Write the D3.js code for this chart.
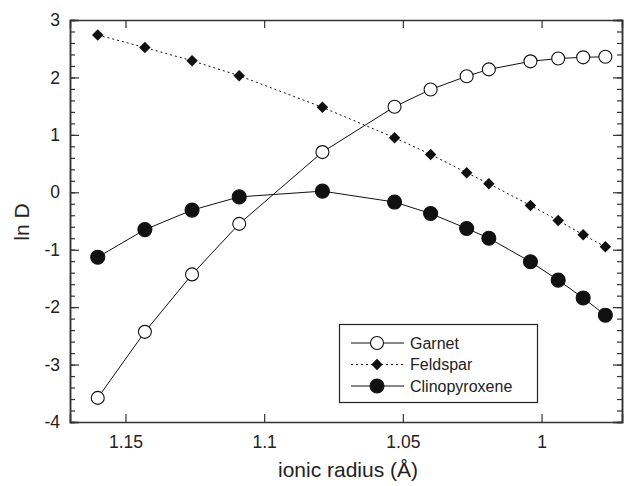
<!DOCTYPE html>
<html>
<head>
<meta charset="utf-8">
<script src="https://cdn.jsdelivr.net/npm/d3@7"></script>
<style>
  body { margin: 0; background: #fff; }
  text { font-family: "Liberation Sans", Arial, sans-serif; fill: #222; }
</style>
</head>
<body>
<div id="chart"></div>
<script>
// ionic radii (Å): La Ce Pr Nd Sm Gd Tb Dy Y Er Tm Yb Lu
var radius = [1.160, 1.143, 1.126, 1.109, 1.079, 1.053, 1.040, 1.027, 1.019, 1.004, 0.994, 0.985, 0.977];
var garnet = [-3.58, -2.43, -1.43, -0.55, 0.70, 1.49, 1.79, 2.02, 2.14, 2.28, 2.33, 2.35, 2.36];
var feldspar = [2.74, 2.52, 2.29, 2.03, 1.48, 0.95, 0.66, 0.34, 0.15, -0.23, -0.49, -0.74, -0.95];
var cpx = [-1.13, -0.65, -0.31, -0.08, 0.02, -0.17, -0.37, -0.63, -0.80, -1.21, -1.53, -1.84, -2.14];
var xTicks = [1.15, 1.1, 1.05, 1];
var yTicks = [-4, -3, -2, -1, 0, 1, 2, 3];

var width = 625, height = 486;
var plotLeft = 70, plotRight = 622, plotTop = 20, plotBottom = 422;

var svg = d3.select("#chart").append("svg")
    .attr("width", width)
    .attr("height", height);

var x = d3.scaleLinear().domain([1.17, 0.971]).range([plotLeft, plotRight]);
var y = d3.scaleLinear().domain([-4, 3]).range([plotBottom, plotTop]);

// frame with inward ticks
var axisColor = "#333";
var xAxis = d3.axisBottom(x).tickValues(xTicks).tickSize(-8).tickPadding(14)
    .tickFormat(function(d) { return d3.format("")(d); });
var gx = svg.append("g").attr("transform", "translate(0," + plotBottom + ")").call(xAxis);
var gxTop = svg.append("g").attr("transform", "translate(0," + plotTop + ")")
    .call(d3.axisTop(x).tickValues(xTicks).tickSize(-8).tickFormat(""));

var yMinor = d3.range(-4, 3.001, 0.2).map(function(v) { return Math.round(v * 10) / 10; });
var gyMinor = svg.append("g").attr("transform", "translate(" + plotLeft + ",0)")
    .call(d3.axisLeft(y).tickValues(yMinor).tickSize(-5).tickFormat(""));
var gy = svg.append("g").attr("transform", "translate(" + plotLeft + ",0)")
    .call(d3.axisLeft(y).tickValues(yTicks).tickSize(-9).tickPadding(10).tickFormat(d3.format("d")));
var gyR = svg.append("g").attr("transform", "translate(" + plotRight + ",0)")
    .call(d3.axisRight(y).tickValues(yMinor).tickSize(-5).tickFormat(""));
var gyR2 = svg.append("g").attr("transform", "translate(" + plotRight + ",0)")
    .call(d3.axisRight(y).tickValues(yTicks).tickSize(-9).tickFormat(""));

[gx, gxTop, gyMinor, gy, gyR, gyR2].forEach(function(g) {
    g.selectAll(".domain").attr("stroke", axisColor).attr("stroke-width", 1.5);
    g.selectAll(".tick line").attr("stroke", axisColor).attr("stroke-width", 1.2);
    g.selectAll(".tick text").style("font-size", "17.5px").attr("fill", "#222");
});
gy.selectAll(".tick text").text(function(d) { return d < 0 ? "-" + Math.abs(d) : d; });

// axis titles
svg.append("text")
    .attr("x", 348).attr("y", 477)
    .attr("text-anchor", "middle")
    .style("font-size", "21px")
    .text("ionic radius (Å)");
svg.append("text")
    .attr("transform", "translate(29,222) rotate(-90)")
    .attr("text-anchor", "middle")
    .style("font-size", "21px")
    .text("ln D");

var series = [
    {name: "Garnet", values: garnet, marker: "open", dash: null},
    {name: "Feldspar", values: feldspar, marker: "diamond", dash: "2,3"},
    {name: "Clinopyroxene", values: cpx, marker: "filled", dash: null}
];

var line = d3.line()
    .x(function(d) { return x(d[0]); })
    .y(function(d) { return y(d[1]); });

function drawMarker(g, type, cx, cy) {
    if (type === "diamond") {
        g.append("path")
            .attr("d", d3.symbol().type(d3.symbolSquare).size(66))
            .attr("transform", "translate(" + cx + "," + cy + ") rotate(45)")
            .attr("fill", "#111");
    } else {
        g.append("circle")
            .attr("cx", cx).attr("cy", cy)
            .attr("r", type === "open" ? 6.5 : 7)
            .attr("fill", type === "open" ? "#fff" : "#111")
            .attr("stroke", "#111").attr("stroke-width", 1.1);
    }
}

series.forEach(function(s) {
    var pts = radius.map(function(r, i) { return [r, s.values[i]]; });
    svg.append("path")
        .datum(pts)
        .attr("d", line)
        .attr("fill", "none")
        .attr("stroke", "#111")
        .attr("stroke-width", 1)
        .attr("stroke-dasharray", s.dash);
    var g = svg.append("g");
    pts.forEach(function(p) { drawMarker(g, s.marker, x(p[0]), y(p[1])); });
});

// legend
var legend = svg.append("g");
legend.append("rect")
    .attr("x", 339.5).attr("y", 324.5)
    .attr("width", 198).attr("height", 78)
    .attr("fill", "#fff").attr("stroke", "#222").attr("stroke-width", 1.2);
series.forEach(function(s, i) {
    var ly = 343 + i * 21.5;
    legend.append("line")
        .attr("x1", 351).attr("x2", 404)
        .attr("y1", ly).attr("y2", ly)
        .attr("stroke", "#111").attr("stroke-width", 1)
        .attr("stroke-dasharray", s.dash);
    drawMarker(legend, s.marker, 377, ly);
    legend.append("text")
        .attr("x", 410).attr("y", ly + 5.5)
        .style("font-size", "16px")
        .text(s.name);
});
</script>
</body>
</html>
